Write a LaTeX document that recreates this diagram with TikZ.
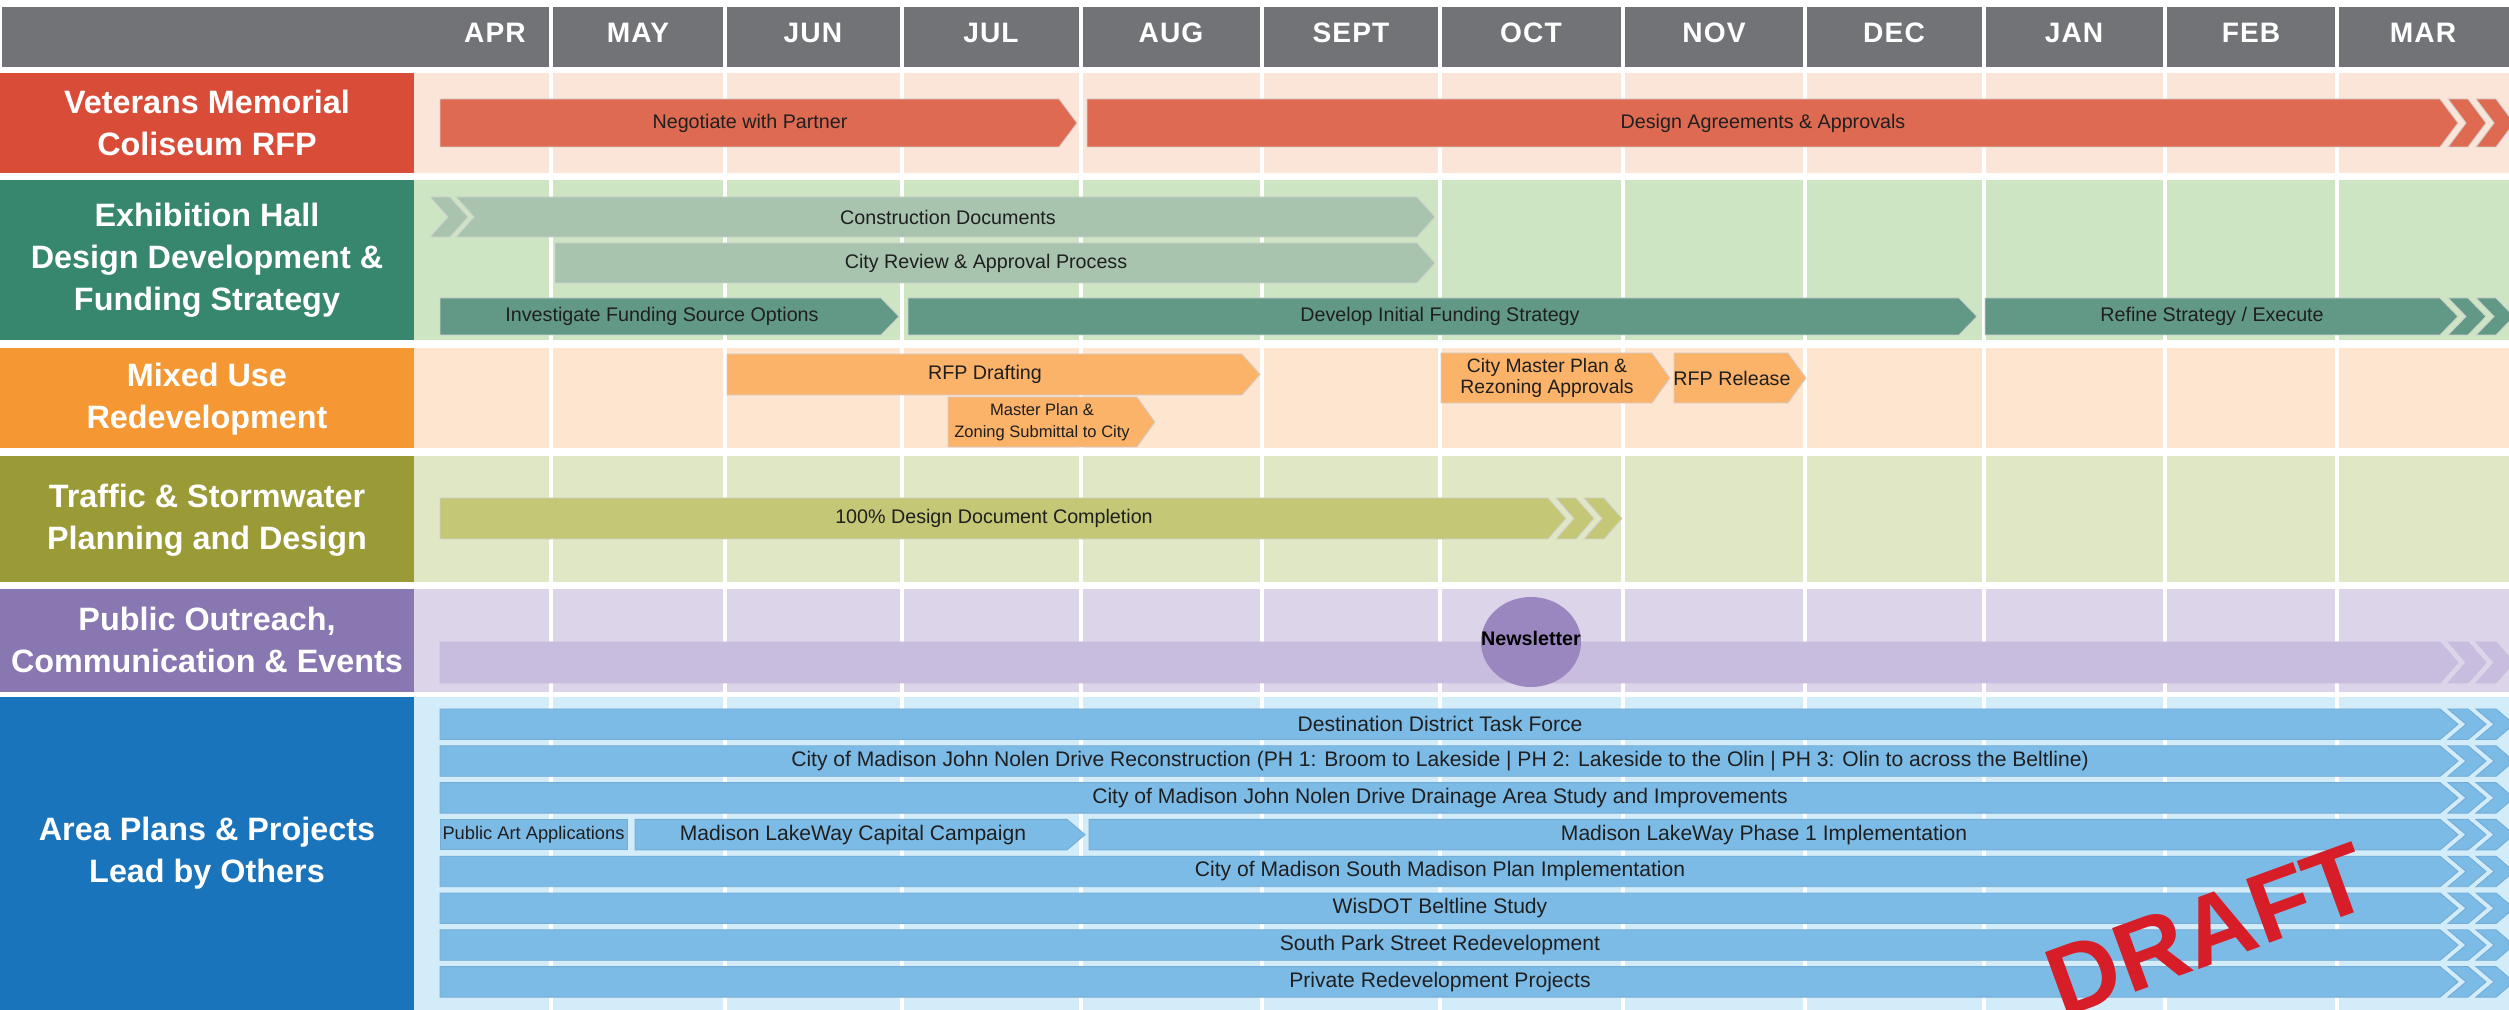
\documentclass[tikz,border=0pt]{standalone}
\usepackage{fontspec}
\setmainfont{Liberation Sans}
\usepackage{xcolor}
\usepackage{tikz}
\usetikzlibrary{shapes.geometric}
\definecolor{hdrgray}{RGB}{114,115,118}
\definecolor{vetlab}{RGB}{216,76,56}
\definecolor{vetbg}{RGB}{251,229,216}
\definecolor{vetbar}{RGB}{222,106,82}
\definecolor{exhlab}{RGB}{55,135,110}
\definecolor{exhbg}{RGB}{205,229,194}
\definecolor{exhlight}{RGB}{168,196,174}
\definecolor{exhdark}{RGB}{98,152,134}
\definecolor{mixlab}{RGB}{245,152,52}
\definecolor{mixbg}{RGB}{254,229,207}
\definecolor{mixbar}{RGB}{251,178,105}
\definecolor{trflab}{RGB}{154,155,55}
\definecolor{trfbg}{RGB}{224,231,197}
\definecolor{trfbar}{RGB}{196,199,117}
\definecolor{publab}{RGB}{137,119,178}
\definecolor{pubbg}{RGB}{220,213,234}
\definecolor{pubbar}{RGB}{200,189,222}
\definecolor{newsfill}{RGB}{155,135,192}
\definecolor{arealab}{RGB}{26,116,187}
\definecolor{areabg}{RGB}{210,236,249}
\definecolor{areabar}{RGB}{125,187,231}
\definecolor{draftred}{RGB}{215,30,40}
% bar: style, x start, x end of shaft, y top, y bottom
\newcommand{\tbar}[5]{\path[#1] (#2,#4) -- (#3,#4) -- ({#3+18},{(#4+#5)/2}) -- (#3,#5) -- (#2,#5) -- cycle;}
\newcommand{\tchev}[4]{\path[#1] (#2,#3) -- ({#2+20},#3) -- ({#2+38},{(#3+#4)/2}) -- ({#2+20},#4) -- (#2,#4) -- ({#2+18},{(#3+#4)/2}) -- cycle;}
\newcommand{\tmore}[5]{\tbar{#1}{#2}{#3}{#4}{#5}\tchev{#1}{#3+8}{#4}{#5}\tchev{#1}{#3+36}{#4}{#5}}
\tikzset{
  bar/.style={draw=black!18, line width=0.25pt},
  vetb/.style={bar, fill=vetbar},
  exhl/.style={bar, fill=exhlight},
  exhd/.style={bar, fill=exhdark},
  mixb/.style={bar, fill=mixbar},
  trfb/.style={bar, fill=trfbar},
  pubb/.style={bar, fill=pubbar, draw=pubbar},
  areab/.style={bar, fill=areabar, draw=areabar!92!black},
  lane/.style={text=white, align=center, font=\bfseries\fontsize{9.2}{11.9}\selectfont},
  month/.style={text=white, font=\bfseries\fontsize{8}{9}\selectfont\addfontfeatures{LetterSpace=4}},
  task/.style={text=black!88, align=center, inner sep=0pt, font=\fontsize{5.6}{6.7}\selectfont},
  task6/.style={task, font=\fontsize{6}{7}\selectfont},
}

\begin{document}
\begin{tikzpicture}[x=0.01cm, y=-0.01cm]
  \useasboundingbox (0,0) rectangle (2509,1010);
  \clip (0,0) rectangle (2509,1010);
  \fill[white] (0,0) rectangle (2509,1010);
  % header and lanes
  \fill[hdrgray] (2,7) rectangle (2509,67);
  \foreach \ya/\yb/\lc/\bc in {73/173/vetlab/vetbg, 180/340/exhlab/exhbg, 348/448/mixlab/mixbg,
      456/582/trflab/trfbg, 589/692/publab/pubbg, 697/1010/arealab/areabg} {
    \fill[\lc] (0,\ya) rectangle (414,\yb);
    \fill[\bc] (414,\ya) rectangle (2509,\yb);
  }
  \foreach \x in {551,725,902,1081,1262,1440,1623,1805,1984,2165,2337}
    \draw[white, line width=0.9pt] (\x,7) -- (\x,1010);
  \foreach \m/\x in {APR/495, MAY/638, JUN/813, JUL/991, AUG/1171, SEPT/1351,
      OCT/1531, NOV/1714, DEC/1894, JAN/2074, FEB/2251, MAR/2423}
    \node[month] (m\m) at (\x,33) {\m};

  \node[lane] (vetlbl) at (207,123) {Veterans Memorial\\Coliseum RFP};
  \node[lane] (exhlbl) at (207,260) {Exhibition Hall\\Design Development \&\\Funding Strategy};
  \node[lane] (mixlbl) at (207,399) {Mixed Use\\Redevelopment};
  \node[lane] (trflbl) at (207,520) {Traffic \& Stormwater\\Planning and Design};
  \node[lane] (publbl) at (207,640) {Public Outreach,\\Communication \& Events};
  \node[lane] (arealbl) at (207,853) {Area Plans \& Projects\\Lead by Others};

  % Veterans Memorial
  \tbar{vetb}{440}{1059}{99}{147}
  \node[task] (negot) at (750,123) {Negotiate with Partner};
  \tmore{vetb}{1087}{2440}{99}{147}
  \node[task] (dsgnagr) at (1763,123) {Design Agreements \& Approvals};

  % Exhibition Hall
  \tchev{exhl}{430}{197}{237}
  \path[exhl] (456,197) -- (1417,197) -- (1435,217) -- (1417,237) -- (456,237) -- (474,217) -- cycle;
  \node[task] (constdoc) at (948,217) {Construction Documents};
  \tbar{exhl}{555}{1417}{243}{283}
  \node[task] (cityrev) at (986,263) {City Review \& Approval Process};
  \tbar{exhd}{440}{881}{298}{335}
  \node[task] (invest) at (662,316.5) {Investigate Funding Source Options};
  \tbar{exhd}{908}{1959}{298}{335}
  \node[task] (devinit) at (1440,316.5) {Develop Initial Funding Strategy};
  \tmore{exhd}{1985}{2440}{298}{335}
  \node[task] (refine) at (2212,316.5) {Refine Strategy / Execute};

  % Mixed Use
  \tbar{mixb}{727}{1242}{354}{395}
  \node[task] (rfpdraft) at (985,374.5) {RFP Drafting};
  \tbar{mixb}{948}{1137}{397}{447}
  \node[task, font=\fontsize{4.7}{6.2}\selectfont] (mpzone) at (1042,422) {Master Plan \&\\Zoning Submittal to City};
  \tbar{mixb}{1441}{1652}{353}{403}
  \node[task, font=\fontsize{5.5}{6.2}\selectfont] (citymp) at (1547,378) {City Master Plan \&\\Rezoning Approvals};
  \tbar{mixb}{1674}{1788}{353}{403}
  \node[task] (rfprel) at (1732,378) {RFP Release};

  % Traffic
  \tmore{trfb}{440}{1548}{498}{539}
  \node[task] (dsgndoc) at (994,518.5) {100\% Design Document Completion};

  % Public Outreach
  \tmore{pubb}{440}{2440}{642}{683}
  \fill[newsfill] (1531,642) ellipse [x radius=0.5cm, y radius=0.45cm];
  \node[task, text=black, font=\bfseries\fontsize{5.6}{6.7}\selectfont] (news) at (1531,638) {Newsletter};

  % Area Plans
  \foreach \i/\t in {0/{Destination District Task Force},
      1/{City of Madison John Nolen Drive Reconstruction (PH 1: Broom to Lakeside | PH 2: Lakeside to the Olin | PH 3: Olin to across the Beltline)},
      2/{City of Madison John Nolen Drive Drainage Area Study and Improvements},
      4/{City of Madison South Madison Plan Implementation},
      5/{WisDOT Beltline Study}, 6/{South Park Street Redevelopment},
      7/{Private Redevelopment Projects}} {
    \pgfmathsetmacro\yt{709+36.8*\i}
    \tmore{areab}{440}{2440}{\yt}{\yt+30.5}
    \node[task6] (area\i) at (1440,\yt+15.25) {\t};
  }
  \path[areab] (440,819.4) rectangle (627,849.9);
  \node[task, font=\fontsize{5.2}{6}\selectfont] (pubart) at (533.5,834.6) {Public Art Applications};
  \tbar{areab}{635}{1067}{819.4}{849.9}
  \node[task6] (capcamp) at (853,834.6) {Madison LakeWay Capital Campaign};
  \tmore{areab}{1089}{2440}{819.4}{849.9}
  \node[task6] (phase1) at (1764,834.6) {Madison LakeWay Phase 1 Implementation};

  \node[rotate=20, text=draftred, font=\bfseries\fontsize{28}{30}\selectfont] (draft) at (2208,930) {DRAFT};
\end{tikzpicture}
\end{document}
